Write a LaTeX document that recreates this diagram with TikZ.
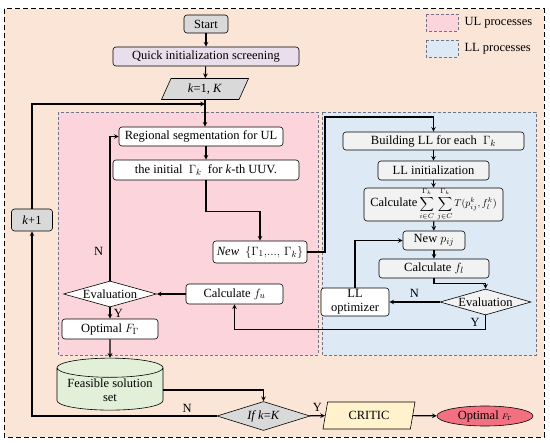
\documentclass[tikz,border=0pt]{standalone}
\usepackage{amssymb,amsmath}
\usepackage{fontspec}
\setmainfont{Liberation Serif}
\usetikzlibrary{shapes.geometric}

\definecolor{peach}{RGB}{251,229,214}
\definecolor{ulpink}{RGB}{252,213,220}
\definecolor{llblue}{RGB}{221,234,246}
\definecolor{boxgray}{RGB}{217,217,217}
\definecolor{llgray}{RGB}{242,242,242}
\definecolor{lavender}{RGB}{233,223,236}
\definecolor{feasgreen}{RGB}{226,240,217}
\definecolor{criticyellow}{RGB}{255,242,204}
\definecolor{optred}{RGB}{242,112,128}
\definecolor{regionline}{RGB}{110,115,135}

\newcommand{\diagfont}{\fontsize{12.5}{14}\selectfont}

\begin{document}
\begin{tikzpicture}[x=1pt,y=-1pt,
  every node/.style={font=\diagfont},
  box/.style={draw, rounded corners=3pt, inner sep=1pt, fill=white, line width=0.6pt},
  gbox/.style={box, fill=boxgray},
  lbox/.style={box, fill=llgray},
  dec/.style={draw, diamond, inner sep=0pt, shape aspect=3.5, line width=0.6pt},
  region/.style={draw=regionline, densely dashed, line width=0.6pt},
  arrow/.style={-stealth, line width=1.1pt}]
  \useasboundingbox (0,0) rectangle (550,444);
  % background and process regions
  \fill[peach] (4,9) rectangle (544,437);
  \draw[dash pattern=on 5pt off 3pt, line width=1pt] (4,9) rectangle (544,437);
  \draw[region, fill=ulpink] (58,112) rectangle (318,355);
  \draw[region, fill=llblue] (322,112) rectangle (536,355);
  % legend
  \draw[region, fill=ulpink] (426,14) rectangle (458,31);
  \node[right] (ulkey) at (461,22.5) {UL processes};
  \draw[region, fill=llblue] (426,40) rectangle (458,57);
  \node[right] (llkey) at (461,48.5) {LL processes};

  % main flow
  \node[gbox, minimum width=44, minimum height=18] (start) at (206,24) {Start};
  \node[box, fill=lavender, minimum width=186, minimum height=19] (quick) at (206,56.5) {Quick initialization screening};
  \node[draw, trapezium, trapezium left angle=53, trapezium right angle=127, trapezium stretches body,
        fill=boxgray, minimum width=87, minimum height=21, inner sep=1pt, line width=0.6pt] (kone) at (205,89) {\textit{k}=1, \textit{K}};
  \node[gbox, minimum width=41, minimum height=22] (kplus) at (32,220) {\textit{k}+1};
  \coordinate (join) at (205,104);

  % UL processes
  \node[box, minimum width=164, minimum height=19] (reg) at (201,136.5) {Regional segmentation for UL};
  \node[box, minimum width=186, minimum height=20] (init) at (206,170) {the initial \ $\Gamma_k$ \ for \textit{k}-th UUV.};
  \node[box, minimum width=94, minimum height=22] (new) at (260,252) {\textit{New} \ $\{\Gamma_1,\!...,\,\Gamma_k\}$};
  \node[box, minimum width=97, minimum height=20] (cfu) at (234.5,294) {Calculate $f_u$};
  \node[dec, fill=white, minimum width=93, minimum height=26] (evu) at (110,294) {Evaluation};
  \node[box, minimum width=96, minimum height=20] (optu) at (110,329) {Optimal $F_\Gamma$};

  % LL processes
  \node[lbox, minimum width=181, minimum height=18] (bld) at (433.5,141) {Building LL for each \ $\Gamma_k$};
  \node[lbox, minimum width=111, minimum height=19] (lli) at (433.5,170.5) {LL initialization};
  \node[lbox, minimum width=139, minimum height=33, inner sep=0pt] (sum) at (433.5,204.5)
    {Calculate\,{\fontsize{10}{11}\selectfont$\displaystyle\sum_{i\in C}^{\Gamma_k}\,\sum_{j\in C}^{\Gamma_k}T(p_{ij}^k,f_l^k)$}};
  \node[lbox, minimum width=62, minimum height=19] (newp) at (434,240.5) {New $p_{ij}$};
  \node[lbox, minimum width=110, minimum height=19] (cfl) at (434,268.5) {Calculate $f_l$};
  \node[dec, fill=llgray, minimum width=91, minimum height=26] (evl) at (485.5,302) {Evaluation};
  \node[box, align=center, minimum width=68, minimum height=28, inner sep=0pt] (llopt) at (355,302) {LL\\optimizer};
  \coordinate (llin) at (325,117);

  % final stage
  \node[draw, cylinder, shape border rotate=90, aspect=0.22, fill=feasgreen, align=center,
        minimum width=106, minimum height=44, inner sep=1pt, line width=0.6pt] (feas) at (110,390) {Feasible solution\\set};
  \node[dec, fill=boxgray, minimum width=93, minimum height=29] (ifk) at (263.5,416) {\textit{If k}=\textit{K}};
  \node[draw, trapezium, trapezium left angle=66, trapezium right angle=114, trapezium stretches body,
        fill=criticyellow, minimum width=92, minimum height=27, inner sep=1pt, line width=0.6pt] (critic) at (369,415.5) {CRITIC};
  \node[draw, ellipse, fill=optred, minimum width=96, minimum height=20, inner sep=0pt, line width=0.6pt] (final) at (485,416)
    {Optimal {\fontsize{8}{9}\selectfont$F_\Gamma$}};

  % connectors
  \path[arrow]
    (start) edge (quick)
    (quick) edge (kone)
    (reg.south -| init.north) edge (init.north)
    (bld) edge (lli)
    (lli) edge (sum)
    (sum) edge (newp)
    (newp) edge (cfl)
    (evl) edge node[above=1pt] {N} (llopt)
    (cfu) edge (evu)
    (evu) edge node[right] {Y} (optu)
    (optu) edge (feas)
    (ifk) edge node[above] {Y} (critic)
    (critic) edge (final);
  \draw[arrow] (kone.south) -- (kone.south |- reg.north);
  \draw[arrow] (kplus.north) |- (join);
  \draw[arrow] (init.south) -- ++(0,31) -| (new.north);
  \draw[arrow] (new.east) -| (llin) -| (bld.north);
  \draw[arrow] (cfl.south) -- ++(0,5) -| (evl.north);
  \draw[arrow] (llopt.north) |- (newp.west);
  \draw[arrow] (evl.south) -- node[left=2pt] {Y} ++(0,14) -| (cfu.south);
  \draw[arrow] (evu.north) |- node[pos=0.1, left=3pt] {N} (reg.west);
  \draw[arrow] (feas.east) -| (ifk.north);
  \draw[arrow] (ifk.west) -| node[pos=0.08, above] {N} (kplus.south);
\end{tikzpicture}
\end{document}
